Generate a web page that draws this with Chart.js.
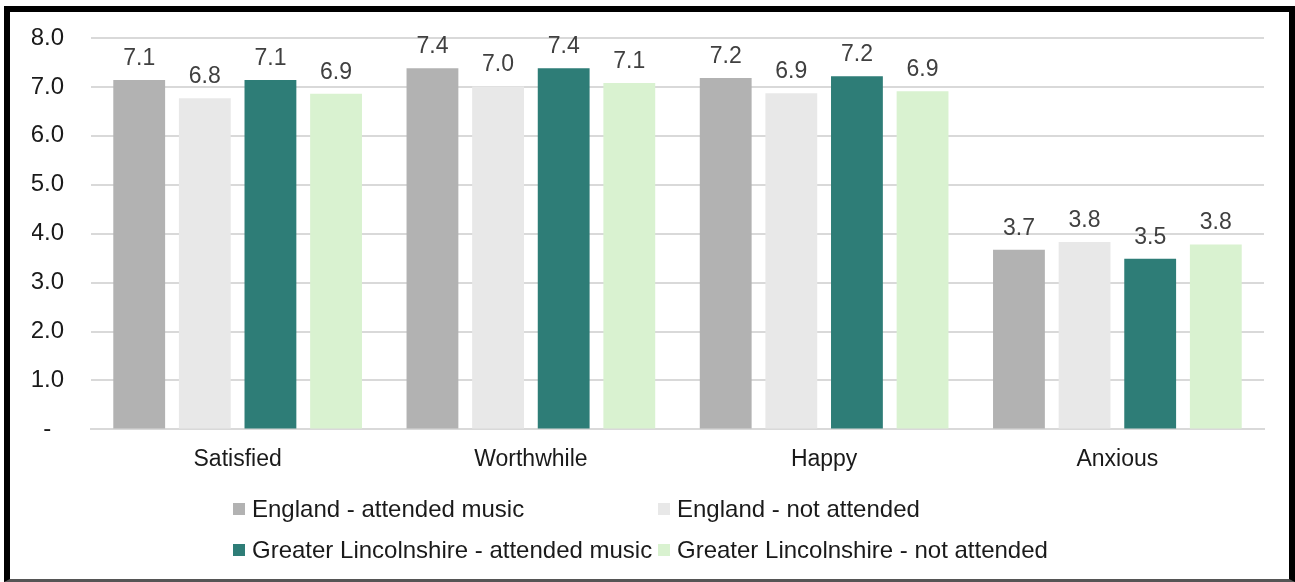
<!DOCTYPE html>
<html>
<head>
<meta charset="utf-8">
<script src="https://cdn.jsdelivr.net/npm/chart.js@4/dist/chart.umd.min.js"></script>
<style>
    html, body { margin: 0; padding: 0; background: #fff; }
    body { width: 1295px; height: 582px; position: relative; overflow: hidden; }
    .frame {
        position: absolute; left: 4px; top: 6px;
        width: 1291px; height: 576px; box-sizing: border-box;
        border: 6px solid #000; border-bottom: 3px solid #555;
    }
    .chart-box { position: absolute; left: 0; top: 0; width: 1279px; height: 567px; }
    .legend {
        position: absolute; left: 223px; top: 476px;
        display: grid; grid-template-columns: 425px 425px;
        font-family: 'Liberation Sans', Arial, sans-serif; font-size: 24px; color: #1a1a1a;
    }
    .legend-item { display: flex; align-items: center; height: 41px; white-space: nowrap; }
    .legend-swatch { width: 12px; height: 12px; margin-right: 7px; flex: none; }
</style>
</head>
<body>
<div class="frame">
    <div class="chart-box"><canvas id="chart"></canvas></div>
    <div class="legend" id="legend"></div>
</div>
<script>
// Wellbeing scores by group
const categories = ['Satisfied', 'Worthwhile', 'Happy', 'Anxious'];
const englandAttended = [7.14, 7.38, 7.18, 3.67];
const englandNotAttended = [6.77, 7.01, 6.87, 3.83];
const lincsAttended = [7.14, 7.38, 7.22, 3.49];
const lincsNotAttended = [6.86, 7.08, 6.91, 3.78];
const yTicks = [0, 1, 2, 3, 4, 5, 6, 7, 8];

const FONT = "'Liberation Sans', Arial, sans-serif";

const series = [
    { label: 'England - attended music', data: englandAttended, color: '#b2b2b2' },
    { label: 'England - not attended', data: englandNotAttended, color: '#e8e8e8' },
    { label: 'Greater Lincolnshire - attended music', data: lincsAttended, color: '#2e7d77' },
    { label: 'Greater Lincolnshire - not attended', data: lincsNotAttended, color: '#d9f2d0' },
];

// value labels above each bar
const valueLabels = {
    id: 'valueLabels',
    afterDatasetsDraw(chart) {
        const ctx = chart.ctx;
        ctx.save();
        ctx.font = `23px ${FONT}`;
        ctx.fillStyle = '#404040';
        ctx.textAlign = 'center';
        ctx.textBaseline = 'alphabetic';
        chart.data.datasets.forEach((ds, i) => {
            chart.getDatasetMeta(i).data.forEach((bar, j) => {
                ctx.fillText(ds.data[j].toFixed(1), bar.x, bar.y - 15);
            });
        });
        ctx.restore();
    }
};

const chart = new Chart(document.getElementById('chart'), {
    type: 'bar',
    data: {
        labels: categories,
        datasets: series.map(s => ({
            label: s.label,
            data: s.data,
            backgroundColor: s.color,
            borderWidth: 0,
            categoryPercentage: 0.895,
            barPercentage: 0.79,
        })),
    },
    options: {
        responsive: true,
        maintainAspectRatio: false,
        animation: false,
        layout: { padding: { top: 26, left: 22, right: 25, bottom: 90 } },
        plugins: {
            legend: { display: false },
            tooltip: { enabled: false },
        },
        scales: {
            x: {
                grid: { display: false, drawTicks: false },
                border: { display: true, color: '#d9d9d9', width: 2 },
                ticks: {
                    color: '#1a1a1a',
                    padding: 16,
                    font: { family: FONT, size: 23 },
                },
            },
            y: {
                min: 0,
                max: 8,
                afterBuildTicks: (axis) => { axis.ticks = yTicks.map(v => ({ value: v })); },
                afterFit: (axis) => {
                    axis.width = 59;
                    axis.paddingTop = 0;
                    axis.paddingBottom = 0;
                },
                grid: { color: '#d9d9d9', lineWidth: 2, drawTicks: false },
                border: { display: false },
                ticks: {
                    color: '#1a1a1a',
                    padding: 27,
                    crossAlign: 'center',
                    font: { family: FONT, size: 24 },
                    callback: (v) => v === 0 ? '-' : Number(v).toFixed(1),
                },
            },
        },
    },
    plugins: [valueLabels],
});

// two-column legend built from the datasets
const legendEl = document.getElementById('legend');
legendEl.innerHTML = chart.data.datasets.map(ds =>
    `<div class="legend-item"><span class="legend-swatch" style="background:${ds.backgroundColor}"></span>${ds.label}</div>`
).join('');
</script>
</body>
</html>
